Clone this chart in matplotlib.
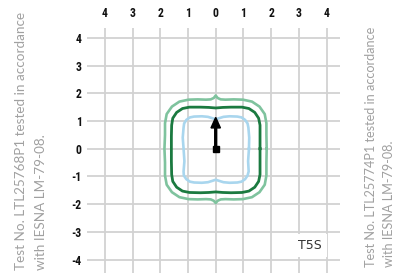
import numpy as np
import matplotlib
matplotlib.use('Agg')
import matplotlib.pyplot as plt
from matplotlib import font_manager

# grid ticks
ticks = [-4, -3, -2, -1, 0, 1, 2, 3, 4]
x_labels = ['4', '3', '2', '1', '0', '1', '2', '3', '4']
y_labels = ['-4', '-3', '-2', '-1', '0', '1', '2', '3', '4']

# isofootcandle contours (x, y)
outer_x = [1.84, 1.83, 1.83, 1.77, 1.58, 1.31, 0.98, 0.65, 0.35, 0.18, 0.07, 0.00,
           -0.07, -0.18, -0.35, -0.65, -0.98, -1.31, -1.58, -1.77, -1.83, -1.83, -1.85,
           -1.83, -1.83, -1.77, -1.58, -1.31, -0.98, -0.65, -0.35, -0.18, -0.07, 0.00,
           0.07, 0.18, 0.35, 0.65, 0.98, 1.31, 1.58, 1.77, 1.83, 1.83, 1.84]
outer_y = [0.00, 0.50, 0.92, 1.25, 1.52, 1.70, 1.77, 1.78, 1.77, 1.78, 1.83, 1.92,
           1.83, 1.78, 1.77, 1.78, 1.77, 1.70, 1.52, 1.25, 0.92, 0.50, 0.00,
           -0.50, -0.97, -1.30, -1.57, -1.75, -1.82, -1.83, -1.82, -1.83, -1.88, -1.96,
           -1.88, -1.83, -1.82, -1.83, -1.82, -1.75, -1.57, -1.30, -0.97, -0.50, 0.00]

mid_x = [1.60, 1.60, 1.60, 1.55, 1.41, 1.20, 0.95, 0.55, 0.25, 0.00,
         -0.25, -0.55, -0.95, -1.20, -1.41, -1.55, -1.59, -1.60, -1.60,
         -1.60, -1.59, -1.55, -1.41, -1.20, -0.95, -0.55, -0.25, 0.00,
         0.25, 0.55, 0.95, 1.20, 1.41, 1.55, 1.60, 1.60, 1.60]
mid_y = [0.00, 0.45, 0.85, 1.10, 1.31, 1.45, 1.50, 1.50, 1.49, 1.47,
         1.49, 1.50, 1.50, 1.45, 1.31, 1.10, 0.85, 0.45, 0.00,
         -0.45, -0.93, -1.18, -1.39, -1.53, -1.58, -1.59, -1.58, -1.56,
         -1.58, -1.59, -1.58, -1.53, -1.39, -1.18, -0.93, -0.45, 0.00]

inner_x = [1.20, 1.21, 1.18, 1.15, 1.06, 0.93, 0.78, 0.50, 0.28, 0.12, 0.00,
           -0.12, -0.28, -0.50, -0.78, -0.93, -1.06, -1.14, -1.16, -1.19, -1.16,
           -1.13, -1.16, -1.15, -1.06, -0.93, -0.78, -0.50, -0.28, -0.12, 0.00,
           0.12, 0.28, 0.50, 0.78, 0.93, 1.06, 1.15, 1.19, 1.17, 1.20]
inner_y = [0.00, 0.40, 0.76, 0.91, 1.04, 1.13, 1.16, 1.17, 1.15, 1.10, 1.06,
           1.10, 1.15, 1.17, 1.16, 1.13, 1.04, 0.91, 0.76, 0.40, 0.00,
           -0.45, -0.82, -0.97, -1.10, -1.19, -1.22, -1.23, -1.21, -1.16, -1.12,
           -1.16, -1.21, -1.23, -1.22, -1.19, -1.10, -0.97, -0.82, -0.45, 0.00]

arrow_len = 1.13

names = {f.name for f in font_manager.fontManager.ttflist}
tick_font = 'DejaVu Sans'
for cand in ['Roboto Condensed', 'Liberation Sans Narrow', 'Open Sans Condensed']:
    if cand in names:
        tick_font = cand
        break
note_font = 'Lato' if 'Lato' in names else 'DejaVu Sans'

fig = plt.figure(figsize=(4.02, 2.75), dpi=100)
ax = fig.add_axes([86.7 / 402, 2 / 275, (340 - 86.7) / 402, (273 - 28) / 275])
ax.set_xlim(-4.657, 4.487)
ax.set_ylim(-4.487, 4.357)

for t in ticks:
    ax.axvline(t, color='#d2d2d2', lw=1.3, zorder=1)
    ax.axhline(t, color='#d2d2d2', lw=1.3, zorder=1)

ax.plot(outer_x, outer_y, color='#7fc39e', lw=1.9, zorder=3, solid_joinstyle='round')
ax.plot(mid_x, mid_y, color='#1b7a40', lw=2.0, zorder=3, solid_joinstyle='round')
ax.plot(inner_x, inner_y, color='#a9d6ee', lw=1.9, zorder=3, solid_joinstyle='round')

ax.arrow(0, 0, 0, arrow_len, width=0.07, head_width=0.34, head_length=0.38,
         length_includes_head=True, color='black', zorder=4)
ax.plot(0, 0, 's', ms=4, color='black', zorder=4)

ax.set_xticks(ticks)
ax.set_xticklabels(x_labels)
ax.set_yticks(ticks)
ax.set_yticklabels(y_labels)
ax.xaxis.tick_top()
ax.tick_params(length=0, labelsize=8.5)
ax.tick_params(axis='x', pad=5.5)
ax.tick_params(axis='y', pad=3.5)
for lab in ax.get_xticklabels() + ax.get_yticklabels():
    lab.set_fontfamily(tick_font)
    lab.set_fontweight('bold')
    lab.set_fontstretch('condensed')
    lab.set_color('#111111')
for s in ax.spines.values():
    s.set_visible(False)

ax.text(3.40, -3.51, 'T5S', ha='center', va='center', fontsize=9, color='#333333',
        zorder=5, bbox=dict(facecolor='white', edgecolor='none', boxstyle='square,pad=0.4'))

left_note = ['Test No. LTL25768P1 tested in accordance', 'with IESNA LM-79-08.']
right_note = ['Test No. LTL25774P1 tested in accordance', 'with IESNA LM-79-08.']
for i, line in enumerate(left_note):
    fig.text((21 + 20 * i) / 402, 5 / 275, line, rotation=90, ha='center', va='bottom',
             fontsize=9.7, color='#a0a0a0', family=note_font)
for i, line in enumerate(right_note):
    fig.text((371 + 18 * i) / 402, 8 / 275, line, rotation=90, ha='center', va='bottom',
             fontsize=9.1, color='#a0a0a0', family=note_font)

fig.savefig('out.png', dpi=100)
